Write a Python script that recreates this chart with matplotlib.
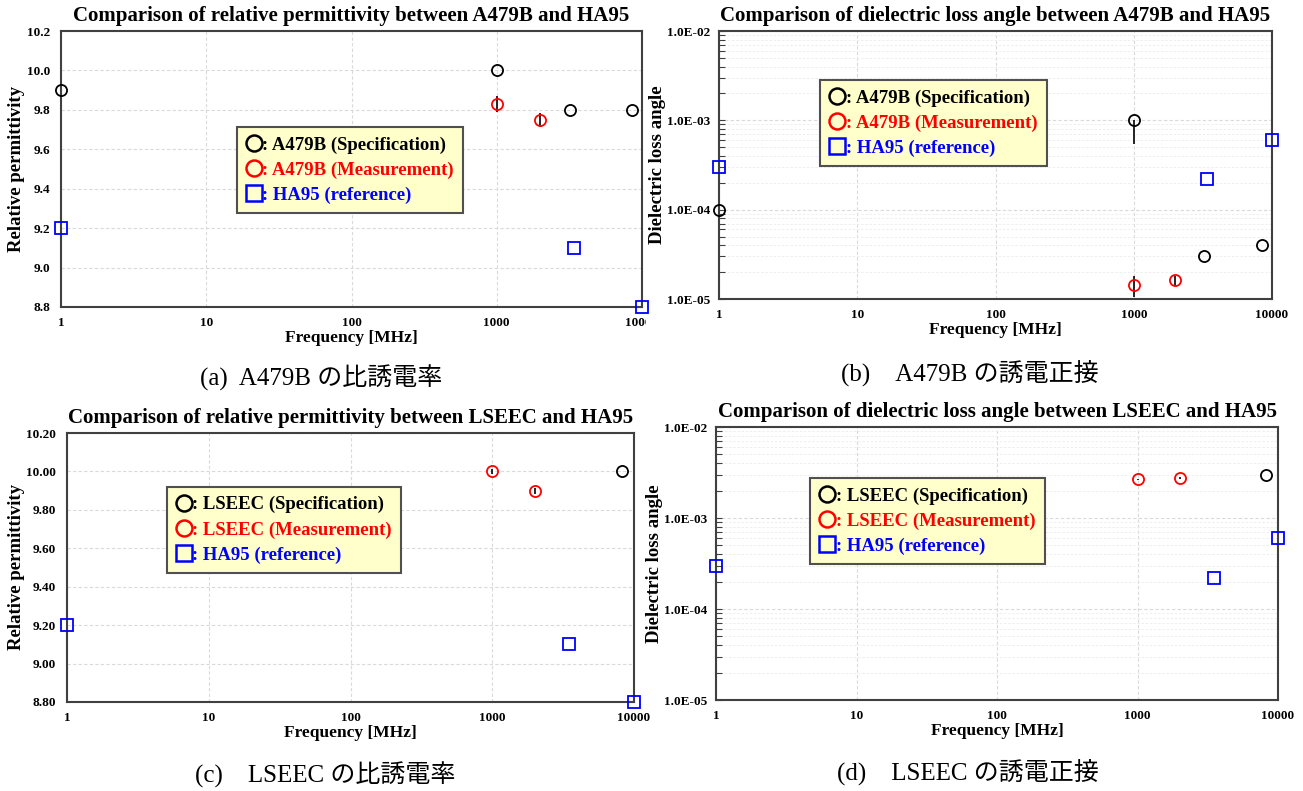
import numpy as np
import matplotlib
matplotlib.use("Agg")
import matplotlib.pyplot as plt
from matplotlib.lines import Line2D
from matplotlib.ticker import FixedLocator, FuncFormatter, LogLocator, NullFormatter
from matplotlib.transforms import Bbox, TransformedBbox

# ---------------- data ----------------
# (a) A479B relative permittivity
a_spec_f = [1, 1000, 3200, 8500]
a_spec_v = [9.9, 10.0, 9.8, 9.8]
a_meas_f = [1000, 2000]
a_meas_v = [9.83, 9.75]
a_meas_err = [0.04, 0.035]
a_ref_f = [1, 3400, 10000]
a_ref_v = [9.2, 9.1, 8.8]

# (b) A479B dielectric loss angle
b_spec_f = [1, 1000, 3200, 8500]
b_spec_v = [1.0e-4, 1.0e-3, 3.0e-5, 4.0e-5]
b_spec_err_lo = [0, 4.6e-4, 0, 0]
b_spec_err_hi = [0, 0, 0, 0]
b_meas_f = [1000, 2000]
b_meas_v = [1.45e-5, 1.65e-5]
b_meas_err_lo = [0.40e-5, 0.25e-5]
b_meas_err_hi = [0.35e-5, 0.15e-5]
b_ref_f = [1, 3400, 10000]
b_ref_v = [3.0e-4, 2.2e-4, 6.0e-4]

# (c) LSEEC relative permittivity
c_spec_f = [8200]
c_spec_v = [10.0]
c_meas_f = [1000, 2000]
c_meas_v = [10.0, 9.9]
c_meas_err = [0.015, 0.015]
c_ref_f = [1, 3500, 10000]
c_ref_v = [9.2, 9.1, 8.8]

# (d) LSEEC dielectric loss angle
d_spec_f = [8200]
d_spec_v = [3.0e-3]
d_meas_f = [1000, 2000]
d_meas_v = [2.65e-3, 2.75e-3]
d_meas_err = [0.05e-3, 0.05e-3]
d_ref_f = [1, 3500, 10000]
d_ref_v = [3.0e-4, 2.2e-4, 6.0e-4]

freq_ticks = [1, 10, 100, 1000, 10000]
freq_labels = ["1", "10", "100", "1000", "10000"]

titles = [
    "Comparison of relative permittivity between A479B and HA95",
    "Comparison of dielectric loss angle between A479B and HA95",
    "Comparison of relative permittivity between LSEEC and HA95",
    "Comparison of dielectric loss angle between LSEEC and HA95",
]
captions = [
    "(a)  A479B の比誘電率",
    "(b)\u3000A479B の誘電正接",
    "(c)\u3000LSEEC の比誘電率",
    "(d)\u3000LSEEC の誘電正接",
]
legend_a = [": A479B (Specification)", ": A479B (Measurement)", ": HA95 (reference)"]
legend_c = [": LSEEC (Specification)", ": LSEEC (Measurement)", ": HA95 (reference)"]

# ---------------- style ----------------
SERIF = ["Liberation Serif", "DejaVu Serif"]
CAPF = ["Liberation Serif", "Noto Sans CJK JP"]
plt.rcParams["font.family"] = SERIF

W, H = 1303, 791
fig = plt.figure(figsize=(W / 100, H / 100), dpi=100)
fig.patch.set_facecolor("white")


def px_axes(x0, y0, x1, y1):
    return fig.add_axes([x0 / W, 1 - y1 / H, (x1 - x0) / W, (y1 - y0) / H])


SPINE = "#404040"
GRID = "#dadada"
MS = 8
TICKFS = 9.5
TITLEFS = 15
YLABFS = 13.5


def style_axes(ax, logy):
    ax.set_xscale("log")
    ax.set_xlim(1, 10000)
    ax.xaxis.set_major_locator(FixedLocator(freq_ticks))
    ax.xaxis.set_major_formatter(FuncFormatter(
        lambda v, p: freq_labels[freq_ticks.index(int(round(v)))] if int(round(v)) in freq_ticks else ""))
    ax.xaxis.set_minor_locator(FixedLocator([]))
    for s in ax.spines.values():
        s.set_color(SPINE)
        s.set_linewidth(1.5)
    ax.tick_params(axis="x", which="both", length=0, pad=7, labelsize=TICKFS)
    ax.grid(True, axis="x", which="major", color=GRID, linestyle=(0, (3, 2)), linewidth=0.8)
    ax.grid(True, axis="y", which="major", color=GRID, linestyle=(0, (3, 2)), linewidth=0.8)
    if logy:
        ax.set_yscale("log")
        ax.set_ylim(1e-5, 1e-2)
        ax.yaxis.set_major_locator(LogLocator(base=10, numticks=10))
        ax.yaxis.set_minor_locator(LogLocator(base=10, subs=np.arange(2, 10), numticks=20))
        ax.yaxis.set_minor_formatter(NullFormatter())

        def fmt(v, p):
            e = int(np.floor(np.log10(v) + 1e-9))
            return f"{v / 10**e:.1f}E{e:03d}"

        ax.yaxis.set_major_formatter(FuncFormatter(fmt))
        ax.grid(True, axis="y", which="minor", color="#ececec", linestyle=(0, (3, 2)), linewidth=0.6)
        ax.tick_params(axis="y", which="both", direction="in", length=4, width=0.8, color=SPINE,
                       pad=6, labelsize=TICKFS)
    else:
        ax.tick_params(axis="y", which="both", length=0, pad=8, labelsize=TICKFS)
    ax.set_xlabel("Frequency [MHz]", fontsize=12.5, fontweight="bold", labelpad=1)
    ax.set_axisbelow(True)


def bold_ticks(ax):
    for t in ax.get_xticklabels() + ax.get_yticklabels():
        t.set_fontweight("bold")


def plot_series(ax, sf, sv, mf, mv, merr, rf, rv, serr=None):
    if serr is not None:
        ax.errorbar(sf, sv, yerr=serr, fmt="none", ecolor="black", elinewidth=1.2, capsize=0, zorder=3, clip_on=False)
    ax.errorbar(mf, mv, yerr=merr, fmt="none", ecolor="black", elinewidth=1.2, capsize=0, zorder=3, clip_on=False)
    ax.plot(sf, sv, linestyle="none", marker="o", ms=MS, mfc="none", mec="black", mew=1.3, zorder=4, clip_on=False)
    ax.plot(mf, mv, linestyle="none", marker="o", ms=MS, mfc="none", mec="red", mew=1.3, zorder=4, clip_on=False)
    ax.plot(rf, rv, linestyle="none", marker="s", ms=MS, mfc="none", mec="blue", mew=1.3, zorder=4, clip_on=False)


def add_legend(ax, labels, anchor, fs=13.5):
    handles = [
        Line2D([], [], linestyle="none", marker="o", ms=11.5, mfc="none", mec="black", mew=1.8),
        Line2D([], [], linestyle="none", marker="o", ms=11.5, mfc="none", mec="red", mew=1.8),
        Line2D([], [], linestyle="none", marker="s", ms=11, mfc="none", mec="blue", mew=1.8),
    ]
    leg = ax.legend(handles, labels, loc="upper left", bbox_to_anchor=anchor, frameon=True,
                    fancybox=False, handlelength=0.8, handletextpad=0.05, labelspacing=0.42,
                    borderpad=0.5, borderaxespad=0, prop={"family": SERIF, "weight": "bold", "size": fs})
    fr = leg.get_frame()
    fr.set_facecolor("#FFFFCC")
    fr.set_edgecolor("#505050")
    fr.set_linewidth(1.5)
    fr.set_alpha(1)
    for t, c in zip(leg.get_texts(), ["black", "red", "blue"]):
        t.set_color(c)
    leg.set_zorder(6)
    return leg


# ---------------- (a) ----------------
axa = px_axes(61, 31, 642, 307)
style_axes(axa, False)
axa.set_ylim(8.8, 10.2)
axa.yaxis.set_major_locator(FixedLocator(np.arange(8.8, 10.21, 0.2)))
axa.yaxis.set_major_formatter(FuncFormatter(lambda v, p: f"{v:.1f}"))
bold_ticks(axa)
plot_series(axa, a_spec_f, a_spec_v, a_meas_f, a_meas_v, a_meas_err, a_ref_f, a_ref_v)
axa.set_ylabel("Relative permittivity", fontsize=YLABFS, fontweight="bold", labelpad=1)
axa.set_title(titles[0], fontsize=TITLEFS, fontweight="bold", pad=7)
add_legend(axa, legend_a, (0.303, 0.652))
clipbox = TransformedBbox(Bbox([[0, 0], [646 / W, 1]]), fig.transFigure)
for t in axa.get_xticklabels():
    t.set_clip_box(clipbox)
    t.set_clip_on(True)

# ---------------- (b) ----------------
axb = px_axes(719, 31, 1272, 299)
style_axes(axb, True)
bold_ticks(axb)
plot_series(axb, b_spec_f, b_spec_v, b_meas_f, b_meas_v, [b_meas_err_lo, b_meas_err_hi],
            b_ref_f, b_ref_v, serr=[b_spec_err_lo, b_spec_err_hi])
axb.set_ylabel("Dielectric loss angle", fontsize=YLABFS, fontweight="bold", labelpad=1)
axb.set_title(titles[1], fontsize=TITLEFS, fontweight="bold", pad=7)
add_legend(axb, legend_a, (0.183, 0.817))

# ---------------- (c) ----------------
axc = px_axes(67, 433, 634, 702)
style_axes(axc, False)
axc.set_ylim(8.8, 10.2)
axc.yaxis.set_major_locator(FixedLocator(np.arange(8.8, 10.21, 0.2)))
axc.yaxis.set_major_formatter(FuncFormatter(lambda v, p: f"{v:.2f}"))
bold_ticks(axc)
plot_series(axc, c_spec_f, c_spec_v, c_meas_f, c_meas_v, c_meas_err, c_ref_f, c_ref_v)
axc.set_ylabel("Relative permittivity", fontsize=YLABFS, fontweight="bold", labelpad=1)
axc.set_title(titles[2], fontsize=TITLEFS, fontweight="bold", pad=7)
add_legend(axc, legend_c, (0.176, 0.80))

# ---------------- (d) ----------------
axd = px_axes(716, 427, 1278, 700)
style_axes(axd, True)
bold_ticks(axd)
plot_series(axd, d_spec_f, d_spec_v, d_meas_f, d_meas_v, d_meas_err, d_ref_f, d_ref_v)
axd.set_ylabel("Dielectric loss angle", fontsize=YLABFS, fontweight="bold", labelpad=1)
axd.set_title(titles[3], fontsize=TITLEFS, fontweight="bold", pad=7)
add_legend(axd, legend_c, (0.168, 0.813))

# ---------------- captions ----------------
cap_pos = [(321, 378), (970, 373), (325, 775), (968, 772)]
for (x, y), txt in zip(cap_pos, captions):
    fig.text(x / W, 1 - y / H, txt, ha="center", va="center", fontsize=18, family=CAPF)

fig.savefig("out.png", dpi=100, facecolor="white")
